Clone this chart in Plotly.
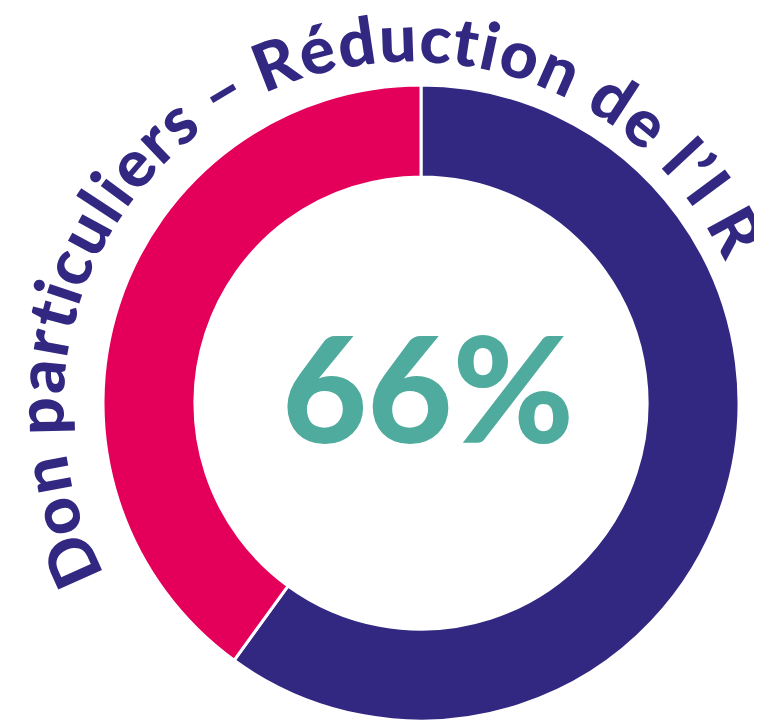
import math
import plotly.graph_objects as go

# ---------------- data ----------------
slice_labels = ["Réduction d'impôt", "Reste à charge"]
slice_values = [60, 40]
slice_colors = ["#322882", "#e4005a"]
center_label = "66%"
title_text = "Don particuliers – Réduction de l’I R"

# ---------------- layout constants ----------------
PAGE_OFF = 8                 # default page margin of the html body
W, H = 762 - PAGE_OFF, 721 - PAGE_OFF
PCX, PCY = 421 - PAGE_OFF, 403 - PAGE_OFF   # pie centre (px, figure frame)
R_OUT = 318                  # outer radius (px)
HOLE = 0.711

PURPLE = "#322882"
TEAL = "#4fab9d"

# curved title geometry (px)
TCX, TCY = 410.5 - PAGE_OFF, 409.0 - PAGE_OFF   # centre of text arc
R_BASE = 349                 # baseline radius
PHI_START = 207.9            # degrees (math convention)
PHI_END = 25.3
TITLE_SIZE = 66
LAYOUT_SIZE = 72             # em size used for advance widths

# approximate advance widths (em) of a humanist bold face
ADV = {
    "D": .630, "o": .537, "n": .537, " ": .226, "p": .537, "a": .494, "r": .355,
    "t": .347, "i": .246, "c": .418, "u": .537, "l": .246, "e": .503, "s": .399,
    "–": .498, "R": .563, "é": .503, "d": .537, "’": .250, "I": .267,
}

fig = go.Figure()
fig.add_trace(go.Pie(
    labels=slice_labels,
    values=slice_values,
    hole=HOLE,
    sort=False,
    direction="clockwise",
    rotation=0,
    textinfo="none",
    hoverinfo="label+percent",
    marker=dict(colors=slice_colors, line=dict(color="white", width=3)),
    domain=dict(x=[(PCX - R_OUT) / W, (PCX + R_OUT) / W],
                y=[1 - (PCY + R_OUT) / H, 1 - (PCY - R_OUT) / H]),
    showlegend=False,
))

annotations = []
# centre value
annotations.append(dict(
    x=(PCX + 7) / W, y=1 - (PCY - 17) / H, xref="paper", yref="paper",
    text=center_label, showarrow=False,
    font=dict(family="Lato", size=147, color=TEAL, weight=900),
    xanchor="center", yanchor="middle",
))

# curved title, one glyph per annotation
widths = [ADV.get(ch, .5) * LAYOUT_SIZE for ch in title_text]
span = math.radians(PHI_START - PHI_END) * R_BASE
track = (span - sum(widths)) / (len(title_text) - 1)
R_CENTER = R_BASE + 0.36 * TITLE_SIZE
cum = 0.0
for ch, w in zip(title_text, widths):
    phi = math.radians(PHI_START) - (cum + w / 2) / R_BASE
    cum += w + track
    if ch == " ":
        continue
    px = TCX + R_CENTER * math.cos(phi)
    py = TCY - R_CENTER * math.sin(phi)
    annotations.append(dict(
        x=px / W, y=1 - py / H, xref="paper", yref="paper",
        text=ch, showarrow=False, borderpad=0,
        textangle=90 - math.degrees(phi),
        font=dict(family="Lato", size=TITLE_SIZE, color=PURPLE, weight=900),
        xanchor="center", yanchor="middle",
    ))

fig.update_layout(
    width=W, height=H,
    margin=dict(l=0, r=0, t=0, b=0),
    paper_bgcolor="white", plot_bgcolor="white",
    annotations=annotations,
)

fig.write_html("out.html")
